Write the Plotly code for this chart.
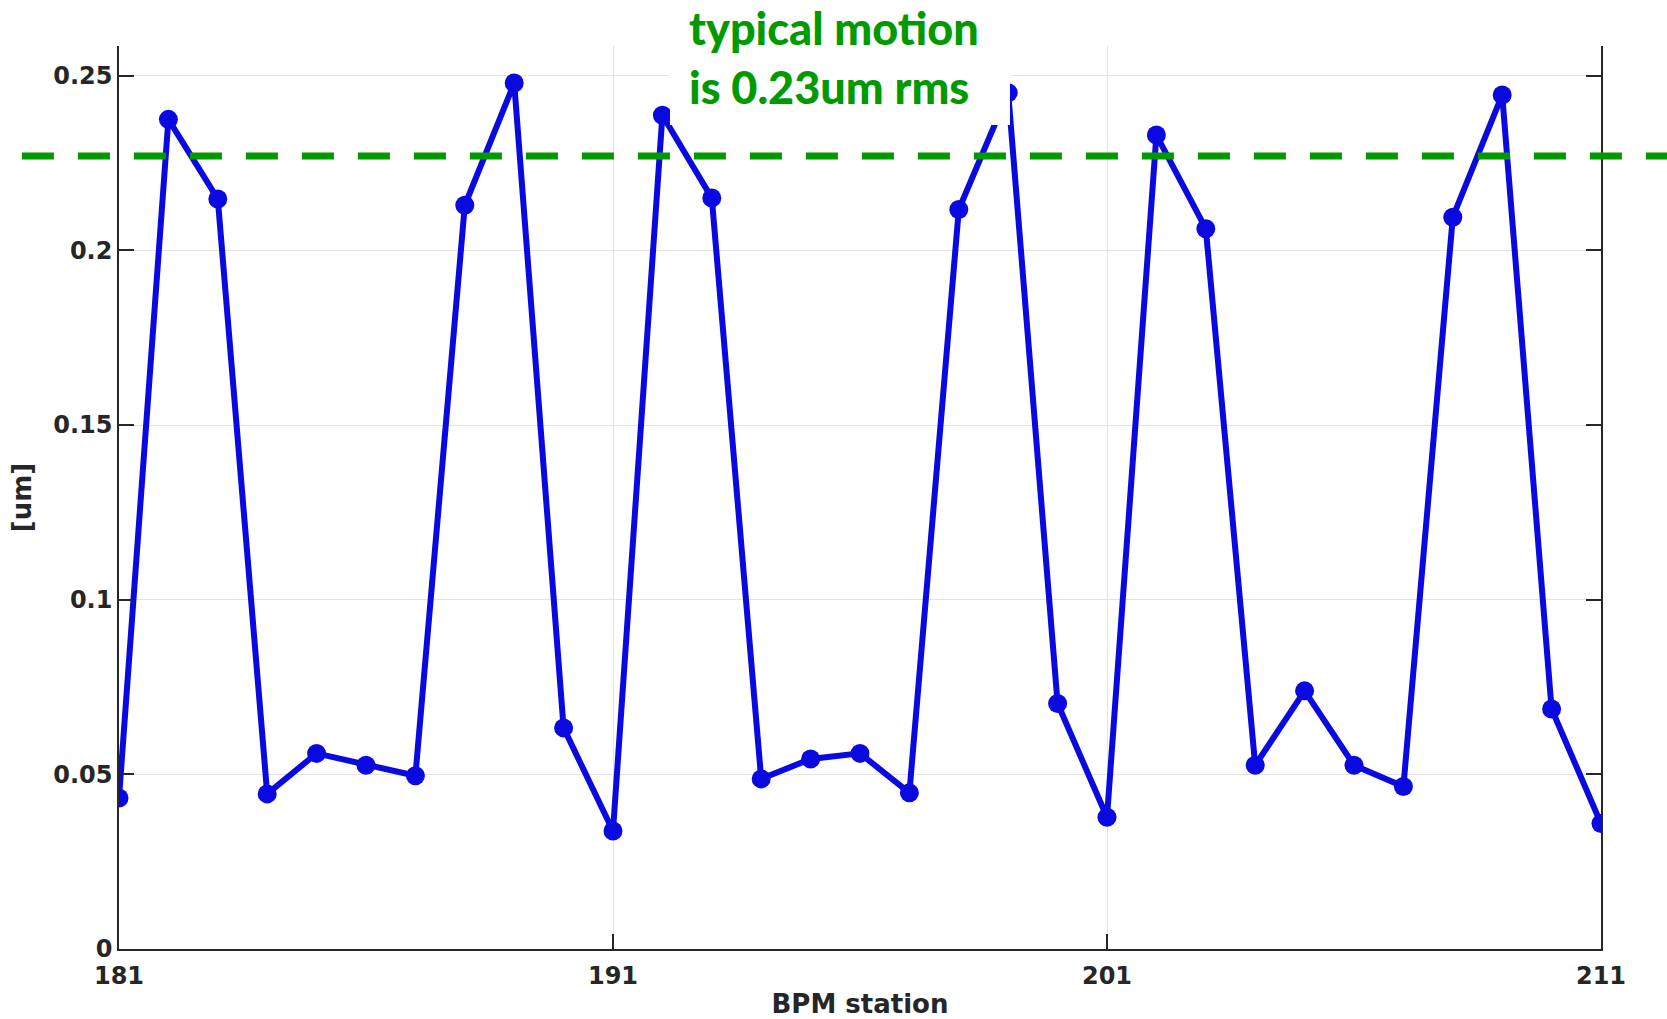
import plotly.graph_objects as go

# BPM stations and measured rms motion per station
stations = list(range(181, 212))
rms_um = [0.0432, 0.2375, 0.2147, 0.0444, 0.0560, 0.0526, 0.0496, 0.2129, 0.2479, 0.0633,
          0.0338, 0.2387, 0.2150, 0.0487, 0.0544, 0.0560, 0.0447, 0.2117, 0.2451, 0.0703,
          0.0377, 0.2330, 0.2062, 0.0526, 0.0739, 0.0526, 0.0465, 0.2095, 0.2445, 0.0687,
          0.0359]
typical_level = 0.227
x_ticks = [181, 191, 201, 211]
y_ticks = [0, 0.05, 0.1, 0.15, 0.2, 0.25]
y_tick_text = ["0", "0.05", "0.1", "0.15", "0.2", "0.25"]

BLUE = "#0a0ae0"
GREEN = "#009a00"
INK = "#262626"

fig = go.Figure()
fig.add_trace(go.Scatter(
    x=stations, y=rms_um, mode="lines+markers",
    line=dict(color=BLUE, width=6),
    marker=dict(color=BLUE, size=19),
    showlegend=False,
))

# typical-motion reference level, running across the whole width
fig.add_shape(type="line", xref="paper", yref="y",
              x0=-0.0655, x1=1.1, y0=typical_level, y1=typical_level,
              line=dict(color=GREEN, width=7, dash="32px,24px"), layer="above")

# white label box over the plot
fig.add_shape(type="rect", xref="paper", yref="paper",
              x0=0.3718, x1=0.6012, y0=0.9125, y1=1.06,
              fillcolor="white", line=dict(width=0), layer="above")
fig.add_annotation(xref="paper", yref="paper", x=0.383, y=1.052,
                   xanchor="left", yanchor="top", align="left",
                   text="typical motion<br>is 0.23um rms",
                   showarrow=False,
                   font=dict(family="Lato", size=45, color=GREEN, weight=900))

axis_common = dict(
    showgrid=True, gridcolor="#e3e3e3", gridwidth=1,
    showline=True, linecolor=INK, linewidth=1.5,
    ticks="inside", ticklen=15, tickcolor=INK, tickwidth=1.5,
    tickfont=dict(family="DejaVu Sans", size=24, color=INK, weight="bold"),
    zeroline=False, automargin=False,
)

fig.update_xaxes(range=[181, 211], tickvals=x_ticks, mirror=False,
                 ticklabelstandoff=4,
                 title=dict(text="<b>BPM station</b>", standoff=6,
                            font=dict(family="DejaVu Sans", size=26, color=INK)),
                 **axis_common)
fig.update_yaxes(range=[0, 0.2585], tickvals=y_ticks, ticktext=y_tick_text,
                 mirror="ticks",
                 title=dict(text="<b>[um]</b>", standoff=14,
                            font=dict(family="DejaVu Sans", size=26, color=INK)),
                 **axis_common)

fig.update_layout(
    width=1667, height=1019,
    margin=dict(l=119, r=66, t=46, b=70),
    plot_bgcolor="white", paper_bgcolor="white",
)

fig.write_html("out.html")
